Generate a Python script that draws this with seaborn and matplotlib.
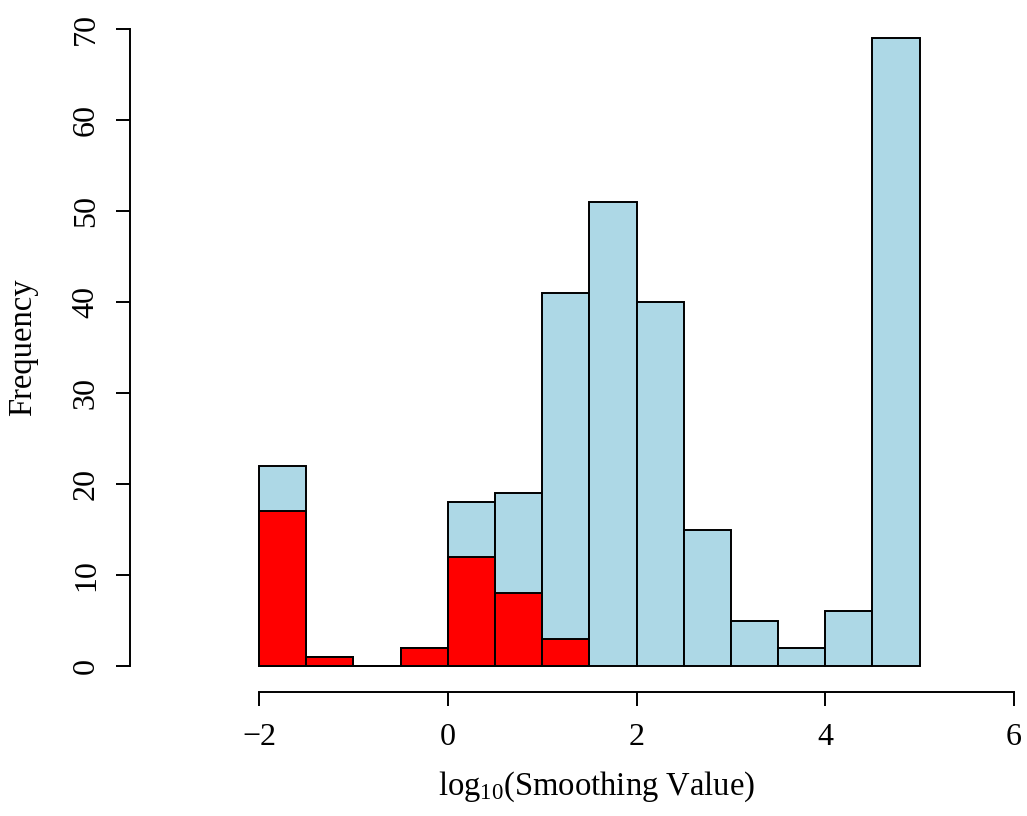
import numpy as np
import matplotlib
matplotlib.use("Agg")
import matplotlib.pyplot as plt
import seaborn as sns

# Histogram bins on the log10 scale
bin_edges = [-2.0, -1.5, -1.0, -0.5, 0.0, 0.5, 1.0, 1.5, 2.0, 2.5, 3.0, 3.5, 4.0, 4.5, 5.0]
# Counts for all values, and for the highlighted subset
all_counts = [22, 1, 0, 2, 18, 19, 41, 51, 40, 15, 5, 2, 6, 69]
subset_counts = [17, 1, 0, 2, 12, 8, 3, 0, 0, 0, 0, 0, 0, 0]
x_ticks = [-2, 0, 2, 4, 6]
y_ticks = [0, 10, 20, 30, 40, 50, 60, 70]

sns.set_style("white")
plt.rcParams["font.family"] = ["Liberation Serif", "DejaVu Serif"]
plt.rcParams["mathtext.fontset"] = "custom"
plt.rcParams["mathtext.rm"] = "Liberation Serif"
plt.rcParams["mathtext.it"] = "Liberation Serif:italic"
plt.rcParams["text.color"] = "black"
plt.rcParams["axes.labelcolor"] = "black"

W, H = 1027, 816
fig = plt.figure(figsize=(W / 100, H / 100), dpi=100)

# Plot region in pixels
left_px, right_px, top_px, bottom_px = 130, 1027, 3.5, 691.5
ax = fig.add_axes([left_px / W, 1 - bottom_px / H,
                   (right_px - left_px) / W, (bottom_px - top_px) / H])

centers = [(a + b) / 2 for a, b in zip(bin_edges[:-1], bin_edges[1:])]
lw = 1.4

sns.histplot(x=centers, weights=all_counts, bins=bin_edges, ax=ax,
             color="#ADD8E6", edgecolor="black", linewidth=lw, alpha=1.0)
sns.histplot(x=centers, weights=subset_counts, bins=bin_edges[:8], ax=ax,
             color="#FF0000", edgecolor="black", linewidth=lw, alpha=1.0)

# Pixel-to-data scale: x=-2 at 259 px, x=6 at 1014 px; y=0 at 666 px, y=70 at 29 px
xs = (1014 - 259) / 8.0
ys = (666 - 29) / 70.0
ax.set_xlim(-2 - (259 - left_px) / xs, 6 + (right_px - 1014) / xs)
ax.set_ylim(-(bottom_px - 666) / ys, 70 + (29 - top_px) / ys)

for s in ["top", "right"]:
    ax.spines[s].set_visible(False)
ax.spines["left"].set_bounds(0, 70)
ax.spines["bottom"].set_bounds(-2, 6)
for s in ["left", "bottom"]:
    ax.spines[s].set_linewidth(lw)
    ax.spines[s].set_color("black")

ax.set_xticks(x_ticks)
ax.set_xticklabels(["\u22122", "0", "2", "4", "6"])
ax.set_yticks(y_ticks)
ax.set_yticklabels([str(v) for v in y_ticks], rotation=90, va="center")
ax.tick_params(axis="both", direction="out", length=10, width=lw, color="black",
               labelsize=23, labelcolor="black", left=True, bottom=True)
ax.tick_params(axis="x", pad=13)
ax.tick_params(axis="y", pad=11)

ax.set_xlabel(r"log$_{\mathrm{10}}$(Smoothing Value)", fontsize=23.5, labelpad=12)
ax.xaxis.label.set_x((597 - left_px) / (right_px - left_px))
ax.set_ylabel("Frequency", fontsize=23.5, labelpad=24)
ax.patch.set_alpha(0)

fig.savefig("out.png", dpi=100, facecolor="white")
